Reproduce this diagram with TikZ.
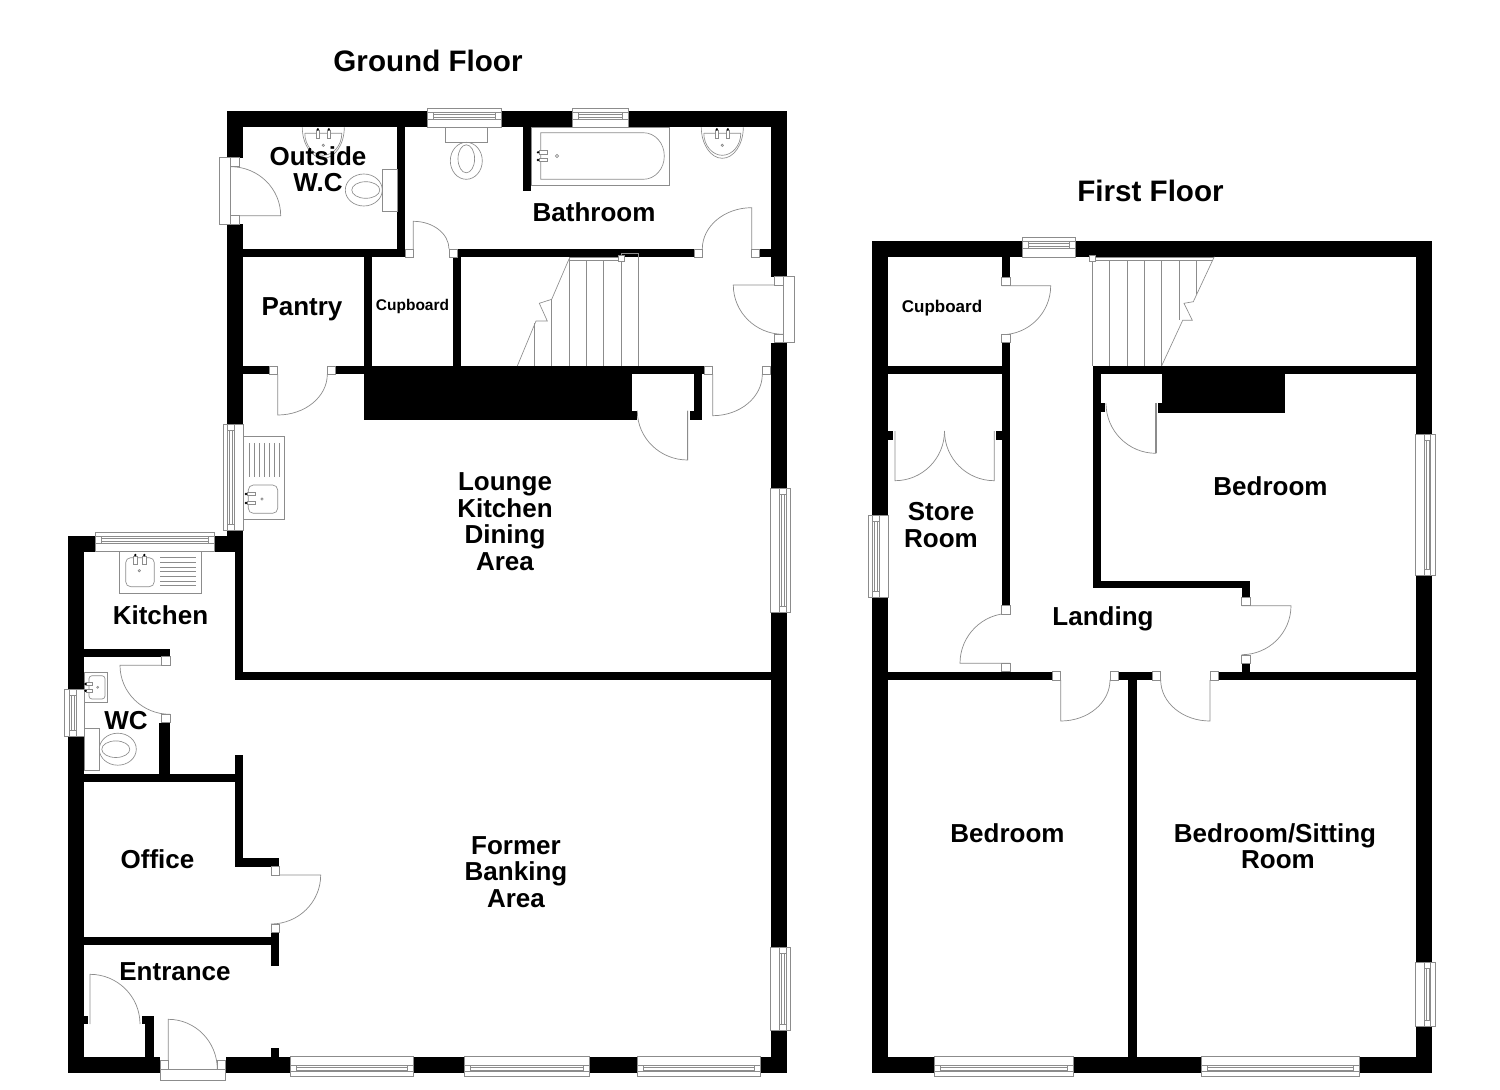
\documentclass[tikz,border=0pt]{standalone}
\usepackage{fontspec}
\setmainfont{Liberation Sans}
\tikzset{
  wallfill/.style={fill=black},
  thinline/.style={draw=linegray,line width=0.65pt},
  doorline/.style={draw=linegray,line width=0.7pt},
  heavyleaf/.style={draw=linegray,line width=1.3pt},
  jambbox/.style={draw=linegray,fill=white,line width=0.65pt},
  winbox/.style={draw=linegray,fill=white,line width=0.65pt},
  roomlabel/.style={font=\fontsize{26}{26.5}\selectfont\bfseries,align=center,inner sep=0pt,text=black},
  smalllabel/.style={font=\fontsize{15.5}{17}\selectfont\bfseries,align=center,inner sep=0pt,text=black},
  smalllabelb/.style={font=\fontsize{17}{19}\selectfont\bfseries,align=center,inner sep=0pt,text=black},
  titlelabel/.style={font=\fontsize{29.6}{32}\selectfont\bfseries,align=center,inner sep=0pt,text=black},
}
\definecolor{linegray}{gray}{0.55}
\newcommand\wal[4]{\fill[wallfill] (#1,#2) rectangle (#3,#4);}
\newcommand\jam[4]{\path[jambbox] (#1,#2) rectangle (#3,#4);}
\newcommand\doorq[6]{%
  \pgfmathsetmacro\qax{#3+0.5523*(#5-#1)}%
  \pgfmathsetmacro\qay{#4+0.5523*(#6-#2)}%
  \pgfmathsetmacro\qbx{#5+0.5523*(#3-#1)}%
  \pgfmathsetmacro\qby{#6+0.5523*(#4-#2)}%
  \draw[doorline] (#1,#2) -- (#3,#4) .. controls (\qax,\qay) and (\qbx,\qby) .. (#5,#6);}
\newcommand\winh[4]{%
  \pgfmathsetmacro\qa{#3+0.43*(#4-#3)}%
  \pgfmathsetmacro\qb{#3+0.78*(#4-#3)}%
  \pgfmathsetmacro\qc{#3+0.53*(#4-#3)}%
  \pgfmathsetmacro\qd{#3+0.68*(#4-#3)}%
  \pgfmathsetmacro\ql{#1+6}%
  \pgfmathsetmacro\qr{#2-6}%
  \path[winbox] (#1,#3) rectangle (#2,#4);
  \draw[thinline] (#1,\qa) rectangle (#2,\qb);
  \draw[thinline] (\ql,\qa) -- (\ql,\qb) (\qr,\qa) -- (\qr,\qb) (\ql,\qc) -- (\qr,\qc) (\ql,\qd) -- (\qr,\qd);}
\newcommand\winv[4]{%
  \pgfmathsetmacro\qa{#3+0.43*(#4-#3)}%
  \pgfmathsetmacro\qb{#3+0.78*(#4-#3)}%
  \pgfmathsetmacro\qc{#3+0.53*(#4-#3)}%
  \pgfmathsetmacro\qd{#3+0.68*(#4-#3)}%
  \pgfmathsetmacro\ql{#1+6}%
  \pgfmathsetmacro\qr{#2-6}%
  \path[winbox] (#3,#1) rectangle (#4,#2);
  \draw[thinline] (\qa,#1) rectangle (\qb,#2);
  \draw[thinline] (\qa,\ql) -- (\qb,\ql) (\qa,\qr) -- (\qb,\qr) (\qc,\ql) -- (\qc,\qr) (\qd,\ql) -- (\qd,\qr);}
\newcommand\toiletq[3]{%
  \begin{scope}[shift={(#1,#2)},rotate=#3]
    \draw[thinline] (-21,0) rectangle (21,15);
    \draw[thinline] (0,33.5) ellipse [x radius=16,y radius=18.5];
    \draw[thinline] (0,31.5) ellipse [x radius=8.3,y radius=14];
  \end{scope}}
\newcommand\basinq[2]{%
  \begin{scope}[shift={(#1,#2)}]
    \draw[thinline] (-21,0) .. controls (-21,17) and (-11.6,31) .. (0,31) .. controls (11.6,31) and (21,17) .. (21,0);
    \draw[thinline] (-18.5,6) -- (18.5,6) .. controls (18.5,18) and (10,28) .. (0,28) .. controls (-10,28) and (-18.5,18) .. (-18.5,6);
    \tapv{-5.5}{2}{11}
    \tapv{5.5}{2}{11}
    \draw[thinline] (0,18) circle [radius=1.2];
  \end{scope}}
\newcommand\tapv[3]{%
  \pgfmathsetmacro\qp{#2+1}%
  \path[jambbox] (#1-1.7,\qp) rectangle (#1+1.7,#3);
  \fill[black] (#1,#2) circle [radius=1.3];}
\newcommand\taph[3]{%
  \pgfmathsetmacro\qp{#1+1}%
  \path[jambbox] (\qp,#3-1.7) rectangle (#2,#3+1.7);
  \fill[black] (#1,#3) circle [radius=1.3];}
\begin{document}
\begin{tikzpicture}[x=1pt,y=-1pt]
\fill[white] (0,0) rectangle (1500,1090);
\useasboundingbox (0,0) rectangle (1500,1090);
%% ---------- GROUND FLOOR walls ----------
\wal{226.7}{110.7}{427.7}{127.3}
\wal{501.7}{110.7}{572.3}{127.3}
\wal{628.3}{110.7}{787.3}{127.3}
\wal{770.7}{110.7}{787.3}{276.7}
\wal{770.7}{342.7}{787.3}{488}
\wal{770.7}{612}{787.3}{947.3}
\wal{770.7}{1030}{787.3}{1073.3}
\wal{226.7}{110.7}{243.3}{157.7}
\wal{226.7}{224}{243.3}{424}
\wal{226.7}{530}{243.3}{551.7}
\wal{397.3}{127}{405}{257.3}
\wal{243}{249}{405}{257.3}
\wal{457.3}{249}{694}{257.3}
\wal{759.7}{249}{771}{257.3}
\wal{364}{257}{372.3}{366}
\wal{452.7}{257}{460.7}{366}
\wal{243}{366}{269.3}{374.3}
\wal{335.3}{366}{364}{374.3}
\wal{364}{366}{704.3}{374.3}
\wal{364}{366}{631.7}{420}
\wal{631}{410.7}{636.7}{420}
\wal{693.7}{366}{702.3}{420}
\wal{690}{410.7}{694}{420}
\wal{523}{127}{531}{191}
%% kitchen / wc
\wal{214}{535.7}{243.3}{551.7}
\wal{235}{551}{243.3}{680}
\wal{235}{672}{771}{680}
\wal{67.7}{535.7}{84.3}{689.3}
\wal{67.7}{736}{84.3}{1073.3}
\wal{67.7}{535.7}{95.3}{551.7}
\wal{84}{648.7}{170}{656.7}
\wal{158.7}{722.7}{170}{774}
\wal{84}{773.7}{243.3}{782.3}
\wal{235}{755}{243.3}{866.7}
\wal{235}{858.3}{279.3}{866.7}
\wal{271}{932.7}{279.3}{965.7}
\wal{84}{936.7}{279.3}{944.7}
\wal{84}{1015.7}{88.3}{1024}
\wal{141.7}{1015.7}{153.7}{1024}
\wal{145.3}{1015.7}{153.7}{1057}
\wal{67.7}{1056.7}{160}{1073.3}
\wal{225.7}{1056.7}{290.3}{1073.3}
\wal{271}{1048.3}{279.3}{1057}
\wal{413.3}{1056.7}{464.3}{1073.3}
\wal{589.3}{1056.7}{637.7}{1073.3}
\wal{760.7}{1056.7}{787.3}{1073.3}
%% ground windows
\winh{427.7}{501.7}{127.3}{108.3}
\winh{572.3}{628.3}{127.3}{108.3}
\winh{290.3}{413.3}{1056.7}{1076}
\winh{464.3}{589.3}{1056.7}{1076}
\winh{637.7}{760.7}{1056.7}{1076}
\winh{95.3}{214}{551.7}{532.3}
\winv{424}{530}{243.3}{223.3}
\winv{689.3}{736}{84.3}{64.7}
\winv{488}{612}{770.7}{790.3}
\winv{947.3}{1030}{770.7}{790.3}
%% ground doors
\path[winbox] (219.3,157.7) rectangle (230.7,224);
\doorq{230.7}{215.7}{280.7}{215.7}{230.7}{166.7}
\jam{230.7}{157.7}{239.3}{166.7}
\jam{230.7}{215.7}{239.3}{224}
\doorq{413.3}{249}{413.3}{221.3}{449}{249}
\jam{405}{249}{413.3}{257.3}
\jam{449}{249}{457.3}{257.3}
\doorq{751.7}{249}{751.7}{207.7}{702.3}{249}
\jam{694}{249}{702.3}{257.3}
\jam{751.7}{249}{759.7}{257.3}
\path[winbox] (783.3,276.7) rectangle (794.7,342.7);
\doorq{783.3}{285}{733.3}{285}{783.3}{334.3}
\jam{774.7}{276.7}{783.3}{285}
\jam{774.7}{334.3}{783.3}{342.7}
\doorq{277.7}{374.3}{277.7}{415}{327.3}{374.3}
\jam{269.3}{366}{277.7}{374.3}
\jam{327.3}{366}{335.3}{374.3}
\doorq{687.7}{410.7}{687.7}{460}{637.3}{410.7}
\draw[heavyleaf] (687.7,410.7) -- (687.7,460);
\doorq{712.7}{374.3}{712.7}{415.7}{762.3}{374.3}
\jam{704.3}{366}{712.7}{374.3}
\jam{762.3}{366}{770.7}{374.3}
\doorq{170}{665.3}{120}{665.3}{170}{714.3}
\jam{161.3}{656.7}{170}{665.3}
\jam{161.3}{714.3}{170}{722.7}
\doorq{271}{875}{320.7}{875}{271}{924}
\jam{271}{866.7}{279.3}{875}
\jam{271}{924}{279.3}{932.7}
\doorq{90}{1024}{90}{974.3}{140}{1024}
\path[winbox] (160,1069.3) rectangle (225.7,1080);
\doorq{168.3}{1069.3}{168.3}{1019.3}{217.3}{1069.3}
\jam{160}{1060.7}{168.3}{1069.3}
\jam{217.3}{1060.7}{225.7}{1069.3}
%% ground stairs
\draw[thinline] (569,257.3) -- (619,257.3) (569,260) -- (619,260);
\draw[thinline] (569,259) -- (551.7,299.3) -- (539.3,303.3) -- (547.3,321) -- (536,321) -- (517.3,366);
\draw[thinline] (534.3,323) -- (534.3,366) (551.7,299.3) -- (551.7,366) (569,257.3) -- (569,366) (586.7,260) -- (586.7,366) (603.7,260) -- (603.7,366) (621.7,253.3) -- (621.7,366) (638.3,253.3) -- (638.3,366) (621.7,253.3) -- (638.3,253.3);
\jam{618.7}{255.7}{624}{261}
%% fixtures
\basinq{323.3}{127.3}
\basinq{722.3}{127.3}
\toiletq{466.3}{127.3}{0}
\toiletq{397.3}{190}{-90}
\toiletq{84.3}{749.2}{90}
\draw[thinline] (531,127.3) rectangle (669.7,185.7);
\draw[thinline] (540.7,132.7) -- (643.3,132.7) .. controls (655,132.7) and (664.3,143) .. (664.3,156) .. controls (664.3,169) and (655,179.3) .. (643.3,179.3) -- (540.7,179.3) -- cycle;
\taph{538}{547.3}{152.3}
\taph{538}{547.3}{160}
\draw[thinline] (557,156) circle [radius=1.6];
%% lounge sink
\draw[thinline] (243.3,436.7) rectangle (284.3,519.3);
\draw[thinline,rounded corners=5pt] (248.3,485) rectangle (277.7,513.3);
\foreach \qi in {249,254,259,264,269,274,279}{\draw[thinline] (\qi,443.3) -- (\qi,477.3);}
\taph{246}{255}{494}
\taph{246}{255}{503}
\draw[thinline] (262,499) circle [radius=1.2];
%% kitchen sink
\draw[thinline] (119.3,551.7) rectangle (201.7,593.3);
\draw[thinline,rounded corners=5pt] (125.7,557.7) rectangle (154.3,586.7);
\foreach \qi in {557.7,562.4,567,571.7,576.4,581,585.7}{\draw[thinline] (160,\qi) -- (195.7,\qi);}
\tapv{135.3}{555}{564.3}
\tapv{144.3}{555}{564.3}
\draw[thinline] (139.3,570.7) circle [radius=1.2];
%% wc basin
\draw[thinline] (84.3,672.3) rectangle (107.3,702.7);
\draw[thinline,rounded corners=3pt] (89,675.7) rectangle (105,699);
\taph{85.5}{92.3}{684}
\taph{85.5}{92.3}{690.7}
\draw[thinline] (97.7,687.3) circle [radius=1];
%% ---------- FIRST FLOOR walls ----------
\wal{871.7}{240.7}{1022.3}{257.3}
\wal{1075}{240.7}{1432.3}{257.3}
\wal{871.7}{240.7}{888.3}{515}
\wal{871.7}{597.3}{888.3}{1073.3}
\wal{1415.7}{240.7}{1432.3}{434}
\wal{1415.7}{575}{1432.3}{962.7}
\wal{1415.7}{1026}{1432.3}{1073.3}
\wal{871.7}{1056.7}{934.7}{1073.3}
\wal{1073}{1056.7}{1201}{1073.3}
\wal{1359.5}{1056.7}{1432.3}{1073.3}
\wal{888}{365.7}{1010}{374.3}
\wal{1001.7}{257}{1010}{277.3}
\wal{1001.7}{342.7}{1010}{605.7}
\wal{888}{671.7}{1052.7}{680}
\wal{1118.3}{671.7}{1152.7}{680}
\wal{1218.3}{671.7}{1416}{680}
\wal{1128}{680}{1136.5}{1057}
\wal{1092.5}{365.7}{1101}{588.3}
\wal{1092.5}{580.7}{1250}{588.3}
\wal{1241.7}{580.7}{1250}{597.3}
\wal{1241.7}{663.3}{1250}{672}
\wal{1092.5}{365.7}{1416}{374.3}
\wal{1161.7}{365.7}{1285}{412.7}
\wal{1157.7}{403.3}{1162}{412.5}
\wal{1101}{403.3}{1105}{412.3}
\wal{888}{431}{893.3}{440}
\wal{995.7}{431}{1002}{440}
%% first-floor windows
\winh{1022.3}{1075}{257.3}{237.3}
\winh{934.7}{1073}{1056.7}{1076}
\winh{1201}{1359.5}{1056.7}{1076}
\winv{515}{597.3}{888.3}{868.3}
\winv{434}{575}{1415.7}{1435}
\winv{962.7}{1026}{1415.7}{1435}
%% first-floor doors
\doorq{1001.7}{285.7}{1050.7}{285.7}{1001.7}{334.7}
\jam{1001.7}{277.3}{1010}{285.7}
\jam{1001.7}{334.3}{1010}{342.7}
\doorq{1010}{663.3}{960}{663.3}{1010}{613.3}
\jam{1001.7}{605.7}{1010}{614.3}
\jam{1001.7}{663.3}{1010}{671.7}
\doorq{1060.7}{680}{1060.7}{721}{1110}{680}
\jam{1052.7}{671.7}{1060.7}{680}
\jam{1110}{671.7}{1118.3}{680}
\doorq{1210}{680}{1210}{721}{1160.7}{680}
\jam{1152.7}{671.7}{1160.7}{680}
\jam{1210}{671.7}{1218.3}{680}
\doorq{1241.7}{605.7}{1291}{605.7}{1241.7}{654.7}
\jam{1241.7}{597.3}{1250}{605.7}
\jam{1241.7}{655}{1250}{663.3}
\doorq{1156}{403.3}{1156}{453.3}{1106}{403.3}
\draw[heavyleaf] (1156,403.3) -- (1156,453.3);
\doorq{895}{431}{895}{480.7}{944.5}{431}
\doorq{994.3}{431}{994.3}{480.7}{944.5}{431}
%% first-floor stairs
\draw[thinline] (1092.3,257.3) -- (1214.3,257.3) (1092.3,260) -- (1212.8,260);
\draw[thinline] (1214.3,256.7) -- (1193.3,301.7) -- (1184,303.3) -- (1192.3,320.3) -- (1182.7,320.3) -- (1161.7,365.7);
\draw[thinline] (1092.3,260) -- (1092.3,365.7) (1109.7,260) -- (1109.7,365.7) (1127,260) -- (1127,365.7) (1144.3,260) -- (1144.3,365.7) (1161.7,260) -- (1161.7,365.7) (1179.3,260) -- (1179.3,320.3) (1196.7,260) -- (1196.7,294);
\jam{1089.3}{255}{1095}{261}
%% ---------- labels ----------
\node[titlelabel] (gf) at (428,61) {Ground Floor};
\node[titlelabel] (ff) at (1150.5,191) {First Floor};
\node[roomlabel] (owc) at (318,169) {Outside\\W.C};
\node[roomlabel] (bath) at (594,212) {Bathroom};
\node[roomlabel] (pantry) at (302,309) {Pantry};
\node[smalllabel] (cup1) at (412.5,306) {Cupboard};
\node[roomlabel] (lounge) at (505,521.5) {Lounge\\Kitchen\\Dining\\Area};
\node[roomlabel] (kit) at (160.5,615) {Kitchen};
\node[roomlabel] (wc) at (126,721) {WC};
\node[roomlabel] (office) at (157.5,859) {Office};
\node[roomlabel] (ent) at (175,971.5) {Entrance};
\node[roomlabel] (bank) at (516,872) {Former\\Banking\\Area};
\node[smalllabelb] (cup2) at (942,308) {Cupboard};
\node[roomlabel] (store) at (941,525) {Store\\Room};
\node[roomlabel] (bed1) at (1270.5,486) {Bedroom};
\node[roomlabel] (land) at (1103,619) {Landing};
\node[roomlabel] (bed2) at (1007.5,833) {Bedroom};
\node[roomlabel] (bed3) at (1275,846) {Bedroom/Sitting\\\hspace*{6pt}Room};
\end{tikzpicture}
\end{document}
